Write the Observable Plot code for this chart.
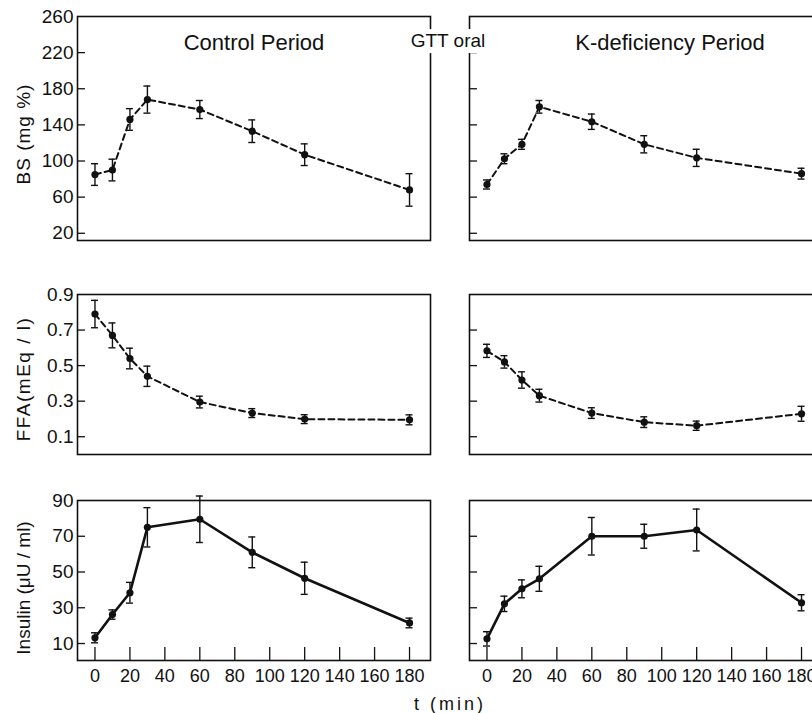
<!DOCTYPE html>
<html><head><meta charset="utf-8">
<script src="https://cdn.jsdelivr.net/npm/d3@7"></script>
<script src="https://cdn.jsdelivr.net/npm/@observablehq/plot@0.6"></script>
<style>
body{margin:0;background:#fff;}
#fig{position:relative;width:812px;height:713px;overflow:hidden;font-family:"Liberation Sans",Arial,sans-serif;color:#111;background:#fff;}
.p{position:absolute;}
.lbl{position:absolute;white-space:nowrap;font-size:19px;line-height:1.15;transform:translate(-50%,-50%);}
.rot{transform:translate(-50%,-50%) rotate(-90deg);}
</style></head><body><div id="fig"></div>
<script>
// ---- data ----
const times = [0, 10, 20, 30, 60, 90, 120, 180];

const bsControl     = [85, 90, 146, 168, 157, 133, 107, 68];
const bsControlErr  = [12, 12, 12, 15, 10, 12.5, 12, 18];
const bsKdef        = [74, 102.5, 118.5, 160, 143.5, 118.5, 103.5, 86];
const bsKdefErr     = [5, 5.5, 5.5, 7, 8.5, 9.5, 9.5, 6];

const ffaControl    = [0.79, 0.67, 0.54, 0.44, 0.295, 0.233, 0.199, 0.195];
const ffaControlErr = [0.077, 0.07, 0.058, 0.057, 0.033, 0.025, 0.025, 0.028];
const ffaKdef       = [0.583, 0.521, 0.419, 0.331, 0.233, 0.182, 0.162, 0.229];
const ffaKdefErr    = [0.037, 0.035, 0.046, 0.036, 0.03, 0.03, 0.026, 0.042];

const insControl    = [13.2, 26.2, 38.4, 75, 79.5, 61, 46.5, 21.5];
const insControlErr = [2.8, 2.6, 5.8, 11, 13, 8.6, 9, 2.7];
const insKdef       = [12.6, 32.2, 40.6, 46.2, 70, 70, 73.5, 32.8];
const insKdefErr    = [4, 4.3, 5, 7, 10.5, 6.7, 11.7, 4.5];

const xTicks   = [0, 20, 40, 60, 80, 100, 120, 140, 160, 180];
const bsTicks  = [260, 220, 180, 140, 100, 60, 20];
const ffaTicks = [0.9, 0.7, 0.5, 0.3, 0.1];
const insTicks = [90, 70, 50, 30, 10];

const titles = ["Control Period", "K-deficiency Period"];
const yLabels = ["BS (mg %)", "FFA(mEq / l)", "Insulin (μU / ml)"];
const middleLabel = "GTT oral";
const xLabel = "t (min)";

// ---- layout ----
const fig = document.getElementById("fig");
const xDomain = [-10, 192];
const FONT = "'Liberation Sans', Arial, sans-serif";

function panel(o) {
  const data = times.map((t, i) => ({t, v: o.values[i], lo: o.values[i] - o.errs[i], hi: o.values[i] + o.errs[i]}));
  const cap = 2.0;
  const marks = [
    Plot.frame({stroke: "#111", strokeWidth: 1.6}),
    Plot.axisY(o.yTicks.slice(1), {tickSize: 8, dx: 8, fill: "none", label: null, stroke: "#111", strokeWidth: 1.3})
  ];
  if (o.showYLabels) {
    marks.push(Plot.axisY(o.yTicks, {tickSize: 0, tickPadding: 4, label: null, fontSize: 19, tickFormat: o.yFmt, fill: "#111"}));
  }
  if (o.showX) {
    marks.push(Plot.axisX(xTicks, {tickSize: 13, dy: -13, fill: "none", label: null, stroke: "#111", strokeWidth: 1.3}));
    marks.push(Plot.axisX(xTicks, {tickSize: 0, tickPadding: 9, label: null, fontSize: 18, fill: "#111"}));
  }
  marks.push(
    Plot.ruleX(data, {x: "t", y1: "lo", y2: "hi", stroke: "#111", strokeWidth: 1.4}),
    Plot.ruleY(data, {y: "lo", x1: d => d.t - cap, x2: d => d.t + cap, stroke: "#111", strokeWidth: 1.4}),
    Plot.ruleY(data, {y: "hi", x1: d => d.t - cap, x2: d => d.t + cap, stroke: "#111", strokeWidth: 1.4}),
    Plot.line(data, {x: "t", y: "v", stroke: "#111", strokeWidth: o.dashed ? 2 : 2.6, strokeDasharray: o.dashed ? "6,4" : null}),
    Plot.dot(data, {x: "t", y: "v", r: 3.6, fill: "#111", stroke: "none"})
  );
  if (o.title) {
    marks.push(Plot.text([o.title], {text: d => d, frameAnchor: "top", lineAnchor: "middle", dy: 26, dx: o.titleDx || 0, fontSize: 22, fill: "#111"}));
  }
  const svg = Plot.plot({
    width: o.marginLeft + 353 + 2,
    height: o.marginTop + o.h + o.marginBottom,
    marginLeft: o.marginLeft, marginRight: 2, marginTop: o.marginTop, marginBottom: o.marginBottom,
    x: {domain: xDomain, axis: o.showX ? undefined : null},
    y: {domain: o.yDomain, label: null},
    style: {background: "transparent", maxWidth: "none", overflow: "visible", fontFamily: FONT, color: "#111"},
    marks
  });
  const wrap = document.createElement("div");
  wrap.className = "p";
  wrap.style.left = o.left + "px";
  wrap.style.top = o.top + "px";
  wrap.appendChild(svg);
  fig.appendChild(wrap);
}

const rows = [
  {vals: [bsControl, bsKdef], errs: [bsControlErr, bsKdefErr], yDomain: [12, 260], yTicks: bsTicks, yFmt: d => d, dashed: true, top: 0, marginTop: 16, h: 224, marginBottom: 10, showX: false, titles: true},
  {vals: [ffaControl, ffaKdef], errs: [ffaControlErr, ffaKdefErr], yDomain: [0, 0.9], yTicks: ffaTicks, yFmt: d => d.toFixed(1), dashed: true, top: 284, marginTop: 10, h: 160, marginBottom: 10, showX: false},
  {vals: [insControl, insKdef], errs: [insControlErr, insKdefErr], yDomain: [0.5, 90], yTicks: insTicks, yFmt: d => d, dashed: false, top: 490, marginTop: 10, h: 160, marginBottom: 40, showX: true}
];

rows.forEach(r => {
  [0, 1].forEach(c => {
    panel({
      values: r.vals[c], errs: r.errs[c], yDomain: r.yDomain, yTicks: r.yTicks, yFmt: r.yFmt,
      dashed: r.dashed, showX: r.showX, showYLabels: c === 0,
      title: r.titles ? titles[c] : null, titleDx: c === 1 ? 24 : 0,
      left: c === 0 ? 0 : 459, marginLeft: c === 0 ? 77 : 10,
      top: r.top, marginTop: r.marginTop, h: r.h, marginBottom: r.marginBottom
    });
  });
});

function label(text, x, y, extra) {
  const d = document.createElement("div");
  d.className = "lbl" + (extra && extra.rot ? " rot" : "");
  d.textContent = text;
  d.style.left = x + "px";
  d.style.top = y + "px";
  if (extra && extra.style) Object.assign(d.style, extra.style);
  fig.appendChild(d);
}
label(yLabels[0], 24, 134, {rot: true, style: {letterSpacing: "1px"}});
label(yLabels[1], 24, 379, {rot: true, style: {letterSpacing: "1.5px"}});
label(yLabels[2], 24, 588, {rot: true});
label(middleLabel, 448, 41, {style: {background: "#fff", padding: "1px 2px", fontSize: "19px"}});
label(xLabel, 450, 704, {style: {fontSize: "18px", letterSpacing: "3px"}});
</script></body></html>
